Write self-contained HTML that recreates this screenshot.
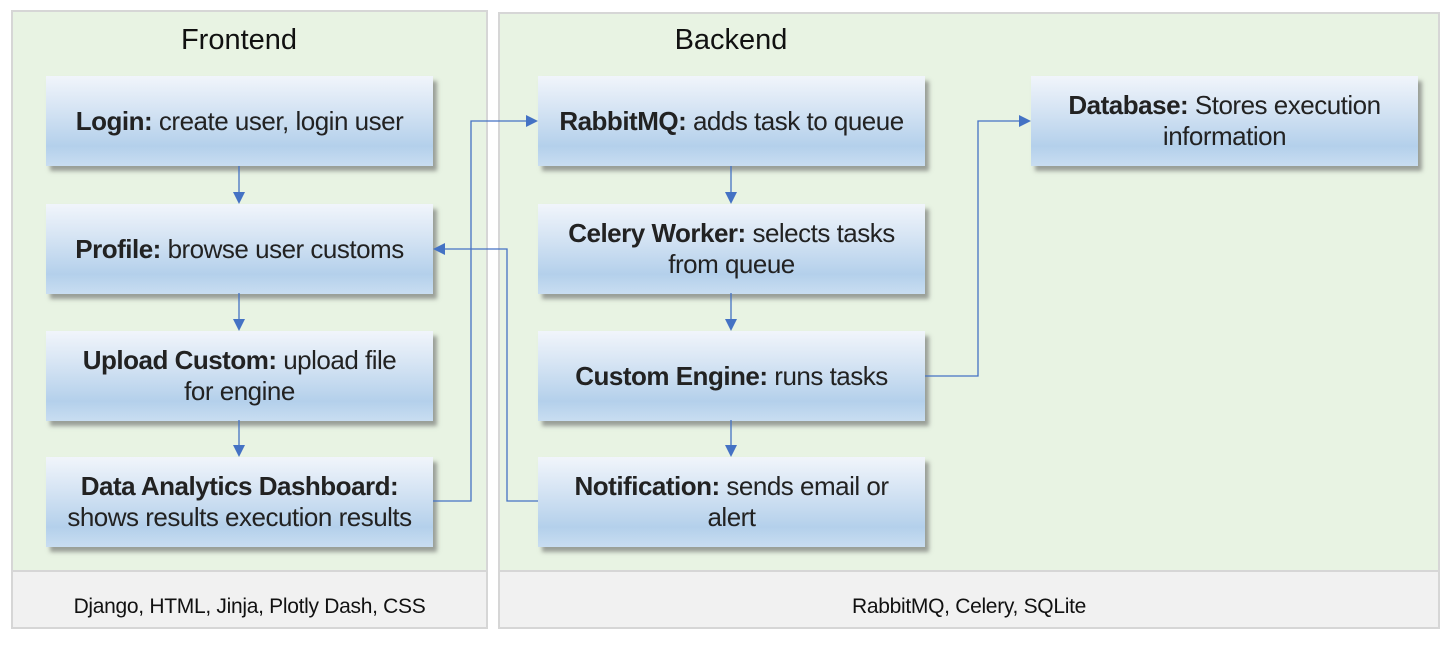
<!DOCTYPE html>
<html><head><meta charset="utf-8"><style>
body{margin:0;width:1454px;height:646px;background:#fff;position:relative;overflow:hidden;font-family:"Liberation Sans",sans-serif;color:#222}
.panel{position:absolute;background:#e8f3e3;border:2px solid #d6d6d6;box-sizing:border-box}
.foot{position:absolute;left:0;right:0;bottom:0;height:55px;background:#f1f1f1;border-top:2px solid #d6d6d6;text-align:center;line-height:70px;font-size:21px;letter-spacing:-0.3px;color:#111}
.title{position:absolute;font-size:29px;color:#111;text-align:center}
.box{position:absolute;width:387px;height:90px;display:flex;align-items:center;justify-content:center;text-align:center;font-size:26px;line-height:31px;letter-spacing:-0.5px;white-space:nowrap;box-sizing:border-box;
background:linear-gradient(to bottom,#f1f5fb 0%,#d7e5f4 35%,#b4d0eb 78%,#c8ddf1 100%);box-shadow:4px 5px 4px rgba(90,90,90,0.55)}
b{font-weight:bold}
svg{position:absolute;left:0;top:0}
</style></head><body>
<div class="panel" style="left:11px;top:10px;width:477px;height:619px"><div class="foot">Django, HTML, Jinja, Plotly Dash, CSS</div></div>
<div class="panel" style="left:498px;top:12px;width:942px;height:617px"><div class="foot">RabbitMQ, Celery, SQLite</div></div>
<div class="title" style="left:139px;top:24px;width:200px">Frontend</div>
<div class="title" style="left:631px;top:24px;width:200px">Backend</div>

<div class="box" style="left:46px;top:76px"><span><b>Login:</b> create user, login user</span></div>
<div class="box" style="left:46px;top:204px"><span><b>Profile:</b> browse user customs</span></div>
<div class="box" style="left:46px;top:331px"><span><b>Upload Custom:</b> upload file<br>for engine</span></div>
<div class="box" style="left:46px;top:457px"><span><b>Data Analytics Dashboard:</b><br>shows results execution results</span></div>

<div class="box" style="left:538px;top:76px"><span><b>RabbitMQ:</b> adds task to queue</span></div>
<div class="box" style="left:538px;top:204px"><span><b>Celery Worker:</b> selects tasks<br>from queue</span></div>
<div class="box" style="left:538px;top:331px"><span><b>Custom Engine:</b> runs tasks</span></div>
<div class="box" style="left:538px;top:457px"><span><b>Notification:</b> sends email or<br>alert</span></div>
<div class="box" style="left:1031px;top:76px"><span><b>Database:</b> Stores execution<br>information</span></div>

<svg width="1454" height="646">
<g stroke="#4472c4" stroke-width="1.3" fill="none">
<line x1="239" y1="166" x2="239" y2="194"/>
<line x1="239" y1="293" x2="239" y2="321"/>
<line x1="239" y1="420" x2="239" y2="447"/>
<line x1="731" y1="166" x2="731" y2="194"/>
<line x1="731" y1="293" x2="731" y2="321"/>
<line x1="731" y1="420" x2="731" y2="447"/>
<polyline points="433,501 471,501 471,121 528,121"/>
<polyline points="538,501 507,501 507,249 443,249"/>
<polyline points="925,376 978,376 978,121 1021,121"/>
</g>
<g fill="#4472c4">
<polygon points="233,192 245,192 239,204"/>
<polygon points="233,319 245,319 239,331"/>
<polygon points="233,445 245,445 239,457"/>
<polygon points="725,192 737,192 731,204"/>
<polygon points="725,319 737,319 731,331"/>
<polygon points="725,445 737,445 731,457"/>
<polygon points="526,115 526,127 538,121"/>
<polygon points="445,243 445,255 433,249"/>
<polygon points="1019,115 1019,127 1031,121"/>
</g>
</svg>
</body></html>
